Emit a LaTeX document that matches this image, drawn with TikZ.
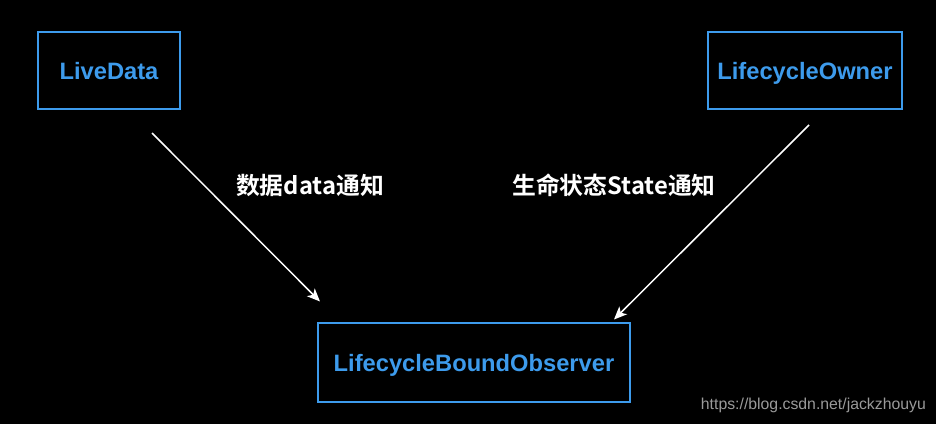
\documentclass[tikz,border=0pt]{standalone}
\usepackage{fontspec}
\setmainfont{Liberation Sans}
\newfontfamily\cjk{Noto Sans CJK SC}[BoldFont={Noto Sans CJK SC Bold}]
\usetikzlibrary{arrows.meta}
\definecolor{boxblue}{HTML}{3D9BEC}
\definecolor{wm}{HTML}{9A9A9A}
\begin{document}
\begin{tikzpicture}[x=1pt,y=-1pt,
  box/.style={draw=boxblue,line width=2pt,text=boxblue,font=\bfseries\fontsize{23.7}{27}\selectfont,inner sep=0pt,text height=17pt,text depth=0pt,anchor=center},
  conn/.style={draw=white,line width=1.5pt,-{Stealth[length=13pt,width=11pt,inset=3.5pt]}},
  lbl/.style={text=white,font=\cjk\bfseries\fontsize{23.8}{27}\selectfont,inner sep=0pt}]
\fill[black] (0,0) rectangle (936,424);
\useasboundingbox (0,0) rectangle (936,424);
\node[box,minimum width=142pt,minimum height=77pt] (ld) at (109,70.5) {LiveData};
\node[box,minimum width=194pt,minimum height=77pt] (lo) at (805,70.5) {LifecycleOwner};
\node[box,minimum width=312pt,minimum height=79pt] (obs) at (474,362.5) {LifecycleBoundObserver};
\coordinate (a1) at (152,133);
\coordinate (a2) at (320,301.5);
\coordinate (b1) at (809,125);
\coordinate (b2) at (614,319.5);
\draw[conn] (a1) -- (a2);
\draw[conn] (b1) -- (b2);
\node[lbl] (l1) at (310,185) {数据data通知};
\node[lbl] (l2) at (614,185) {生命状态State通知};
\node[text=wm,font=\fontsize{15.8}{18}\selectfont,inner sep=0pt,anchor=east] (w) at (926,405) {https://blog.csdn.net/jackzhouyu};
\end{tikzpicture}
\end{document}
